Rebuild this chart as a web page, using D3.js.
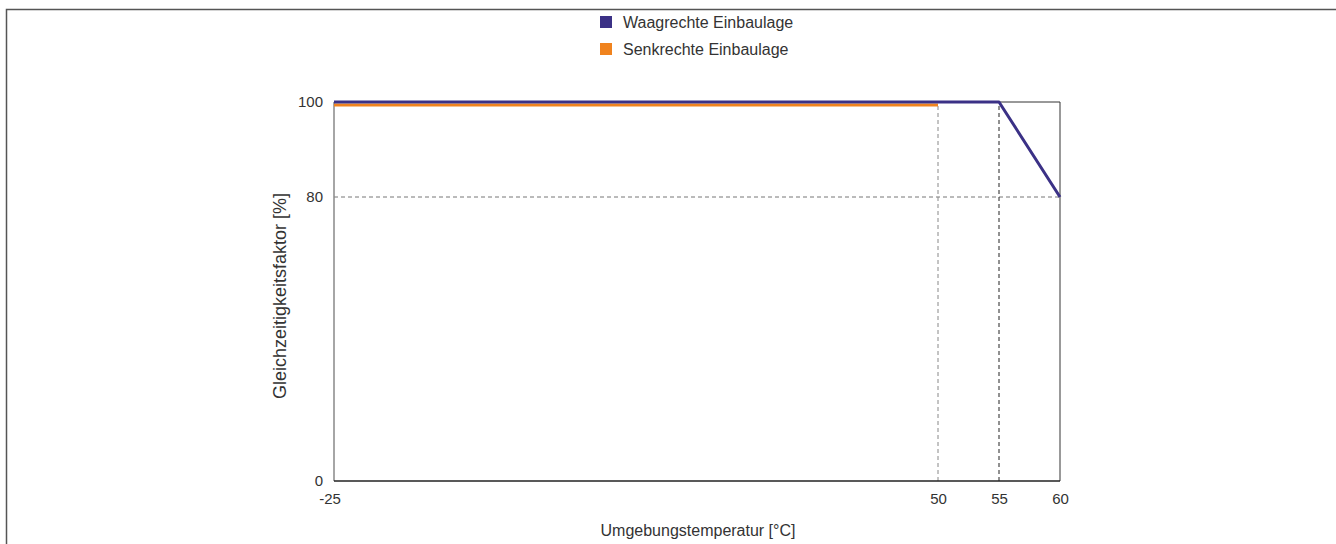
<!DOCTYPE html>
<html>
<head>
<meta charset="utf-8">
<script src="https://cdn.jsdelivr.net/npm/d3@7"></script>
<style>
  body { margin: 0; background: #fff; }
  text { font-family: "Liberation Sans", Arial, sans-serif; fill: #333; }
</style>
</head>
<body>
<svg id="chart"></svg>
<script>
const width = 1336;
const height = 544;

// data
const xTicks = [-25, 50, 55, 60];
const yTicks = [0, 80, 100];
const seriesNames = ["Waagrechte Einbaulage", "Senkrechte Einbaulage"];
const seriesColors = ["#3b3186", "#f0831e"];
const waagrechteTemp = [-25, 55, 60];
const waagrechteValue = [100, 100, 80];
const senkrechteTemp = [-25, 50];
const senkrechteValue = [100, 100];
const xGuides = [50, 55];
const yGuides = [80];

const svg = d3.select("#chart")
    .attr("width", width)
    .attr("height", height);

// outer frame
svg.append("rect")
    .attr("x", 6.5).attr("y", 9.5)
    .attr("width", 1340).attr("height", 560)
    .attr("fill", "none")
    .attr("stroke", "#555")
    .attr("stroke-width", 1.5);

// the source chart spaces its ticks unevenly, so use piecewise scales
const x = d3.scaleLinear().domain([-25, 50, 60]).range([334, 938, 1060]);
const y = d3.scaleLinear().domain([0, 80, 100]).range([481, 197, 102]);

const plot = svg.append("g");

// guide lines
plot.selectAll(".hguide")
    .data(yGuides)
    .enter()
    .append("line")
    .attr("x1", x(-25)).attr("x2", x(60))
    .attr("y1", d => y(d)).attr("y2", d => y(d))
    .attr("stroke", "#777")
    .attr("stroke-dasharray", "4,3");

plot.selectAll(".vguide")
    .data(xGuides)
    .enter()
    .append("line")
    .attr("x1", d => x(d)).attr("x2", d => x(d))
    .attr("y1", y(0)).attr("y2", y(100))
    .attr("stroke", (d, i) => i === 0 ? "#888" : "#222")
    .attr("stroke-dasharray", "4,3");

// plot frame
plot.append("line")
    .attr("x1", x(-25)).attr("x2", x(-25))
    .attr("y1", y(0)).attr("y2", y(100))
    .attr("stroke", "#888").attr("stroke-width", 1.5);
plot.append("line")
    .attr("x1", x(60)).attr("x2", x(60))
    .attr("y1", y(0)).attr("y2", y(100))
    .attr("stroke", "#999").attr("stroke-width", 2);
plot.append("line")
    .attr("x1", x(-25)).attr("x2", x(60))
    .attr("y1", y(0)).attr("y2", y(0))
    .attr("stroke", "#222").attr("stroke-width", 1.5);
plot.append("line")
    .attr("x1", x(-25)).attr("x2", x(60))
    .attr("y1", y(100)).attr("y2", y(100))
    .attr("stroke", "#333").attr("stroke-width", 1);

// axes (labels only)
const xAxis = svg.append("g")
    .attr("transform", `translate(0,${y(0)})`)
    .call(d3.axisBottom(x).tickValues(xTicks).tickSize(0).tickPadding(12).tickFormat(d => String(d)));
xAxis.select(".domain").remove();
xAxis.selectAll("text").style("font-size", "15px").attr("fill", "#333");
xAxis.selectAll(".tick").filter(d => d === -25).select("text").attr("dx", "-0.3em");

const yAxis = svg.append("g")
    .attr("transform", `translate(${x(-25)},0)`)
    .call(d3.axisLeft(y).tickValues(yTicks).tickSize(0).tickPadding(11).tickFormat(d => String(d)));
yAxis.select(".domain").remove();
yAxis.selectAll("text").style("font-size", "15px").attr("fill", "#333");

// series
const line = d3.line().x(d => x(d[0])).y(d => y(d[1]));

plot.append("path")
    .datum(d3.zip(senkrechteTemp, senkrechteValue))
    .attr("d", line)
    .attr("transform", "translate(0,3)")
    .attr("fill", "none")
    .attr("stroke", seriesColors[1])
    .attr("stroke-width", 3);

plot.append("path")
    .datum(d3.zip(waagrechteTemp, waagrechteValue))
    .attr("d", line)
    .attr("fill", "none")
    .attr("stroke", seriesColors[0])
    .attr("stroke-width", 3)
    .attr("stroke-linejoin", "round");

// axis titles
svg.append("text")
    .attr("x", 698)
    .attr("y", 536)
    .attr("text-anchor", "middle")
    .style("font-size", "16px")
    .text("Umgebungstemperatur [°C]");

svg.append("text")
    .attr("transform", "translate(286,296) rotate(-90)")
    .attr("text-anchor", "middle")
    .style("font-size", "18px")
    .text("Gleichzeitigkeitsfaktor [%]");

// legend
const legend = svg.append("g")
    .attr("transform", "translate(600,16)");

const item = legend.selectAll(".item")
    .data(seriesNames)
    .enter()
    .append("g")
    .attr("transform", (d, i) => `translate(0,${i * 27})`);

item.append("rect")
    .attr("width", 12).attr("height", 12)
    .attr("fill", (d, i) => seriesColors[i]);

item.append("text")
    .attr("x", 23).attr("y", 12)
    .style("font-size", "16px")
    .text(d => d);
</script>
</body>
</html>
